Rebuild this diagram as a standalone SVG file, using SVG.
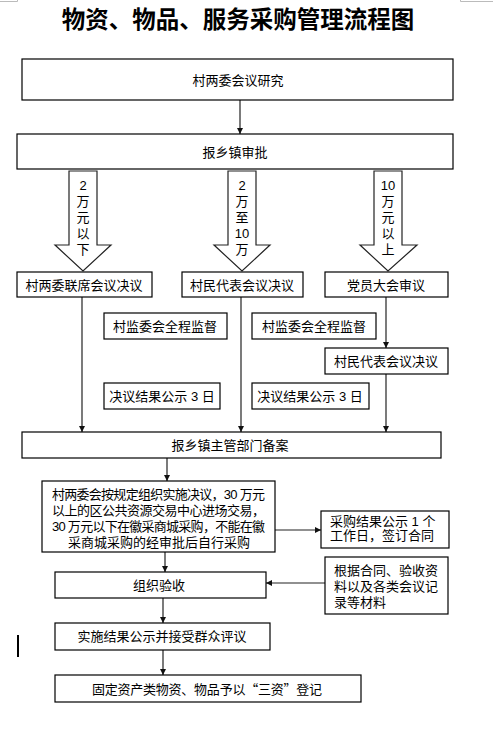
<svg xmlns="http://www.w3.org/2000/svg" width="493" height="744" viewBox="0 0 493 744">
<defs>
<marker id="ah" viewBox="0 0 10 10" refX="10" refY="5" markerWidth="6" markerHeight="7" markerUnits="userSpaceOnUse" orient="auto">
<path d="M0,0 L10,5 L0,10 z" fill="#111"/>
</marker>
</defs>
<style>
.box{fill:#fff;stroke:#000;stroke-width:1.2}
.t{font-family:"Liberation Sans","Noto Sans CJK SC",sans-serif;font-size:13px;fill:#000;dominant-baseline:central}
.c{text-anchor:middle}
.cjk{font-family:"Noto Sans CJK SC",sans-serif}
.title{font-family:"Noto Sans CJK SC",sans-serif;font-size:23.5px;font-weight:bold;fill:#000;text-anchor:middle}
.ln{stroke:#222;stroke-width:1.2;fill:none;marker-end:url(#ah)}
.barrow{fill:#fff;stroke:#222;stroke-width:1.2}
</style>
<rect width="493" height="744" fill="#fff"/>
<g id="marks" stroke="#bbb" stroke-width="1" fill="none">
<path d="M0,1.5 H17.5 V0"/>
<path d="M493,1.5 H460.5 V0"/>
</g>
<line x1="18" y1="635" x2="18" y2="657" stroke="#000" stroke-width="2"/>
<text class="title" x="238" y="28">物资、物品、服务采购管理流程图</text>

<g id="connectors">
<line class="ln" x1="240" y1="100" x2="240" y2="134"/>
<line class="ln" x1="82" y1="297" x2="82" y2="432"/>
<line class="ln" x1="241" y1="297" x2="241" y2="432"/>
<line class="ln" x1="386" y1="297" x2="386" y2="348"/>
<line class="ln" x1="386" y1="374" x2="386" y2="432"/>
<line class="ln" x1="167" y1="458" x2="167" y2="481"/>
<line class="ln" x1="165" y1="552" x2="165" y2="572"/>
<line class="ln" x1="275" y1="530" x2="321" y2="530"/>
<line class="ln" x1="325" y1="583" x2="266" y2="583"/>
<line class="ln" x1="163" y1="598" x2="163" y2="623"/>
<line class="ln" x1="163" y1="650" x2="163" y2="675"/>
<g id="arrow1">
<polygon class="barrow" points="69,171 97,171 97,245 111,245 83,271 55,245 69,245"/>
<text class="t c" x="83" y="185">2</text>
<text class="t c" x="83" y="201">万</text>
<text class="t c" x="83" y="217">元</text>
<text class="t c" x="83" y="233">以</text>
<text class="t c" x="83" y="249">下</text>
</g>
<g id="arrow2">
<polygon class="barrow" points="228,171 256,171 256,245 270,245 242,271 214,245 228,245"/>
<text class="t c" x="242" y="185">2</text>
<text class="t c" x="242" y="201">万</text>
<text class="t c" x="242" y="217">至</text>
<text class="t c" x="242" y="233">10</text>
<text class="t c" x="242" y="249">万</text>
</g>
<g id="arrow3">
<polygon class="barrow" points="374,171 402,171 402,245 417,245 388,271 360,245 374,245"/>
<text class="t c" x="388" y="185">10</text>
<text class="t c" x="388" y="201">万</text>
<text class="t c" x="388" y="217">元</text>
<text class="t c" x="388" y="233">以</text>
<text class="t c" x="388" y="249">上</text>
</g>
</g>

<g id="n1"><rect class="box" x="22" y="59" width="431" height="41"/><text class="t c" x="238" y="80">村两委会议研究</text></g>
<g id="n2"><rect class="box" x="17" y="134" width="436" height="35"/><text class="t c" x="235" y="152">报乡镇审批</text></g>
<g id="n3"><rect class="box" x="17" y="272" width="135" height="25"/><text class="t c" x="84" y="285">村两委联席会议决议</text></g>
<g id="n4"><rect class="box" x="182" y="272" width="121" height="25"/><text class="t c" x="242" y="285">村民代表会议决议</text></g>
<g id="n5"><rect class="box" x="325" y="272" width="123" height="25"/><text class="t c" x="386" y="285">党员大会审议</text></g>
<g id="n6"><rect class="box" x="104" y="313" width="123" height="26"/><text class="t c" x="165" y="326">村监委会全程监督</text></g>
<g id="n7"><rect class="box" x="252" y="313" width="124" height="26"/><text class="t c" x="314" y="326">村监委会全程监督</text></g>
<g id="n8"><rect class="box" x="325" y="348" width="123" height="26"/><text class="t c" x="386" y="361">村民代表会议决议</text></g>
<g id="n9"><rect class="box" x="104" y="383" width="116" height="26"/><text class="t c" x="162" y="396">决议结果公示 3 日</text></g>
<g id="n10"><rect class="box" x="252" y="383" width="117" height="26"/><text class="t c" x="310" y="396">决议结果公示 3 日</text></g>
<g id="n11"><rect class="box" x="22" y="432" width="419" height="26"/><text class="t c" x="230" y="445">报乡镇主管部门备案</text></g>
<g id="n12"><rect class="box" x="42" y="481" width="233" height="71"/>
<text class="t" x="52" y="494" textLength="213" lengthAdjust="spacing">村两委会按规定组织实施决议，30 万元</text>
<text class="t" x="52" y="510" textLength="213" lengthAdjust="spacing">以上的区公共资源交易中心进场交易，</text>
<text class="t" x="52" y="526" textLength="213" lengthAdjust="spacing">30 万元以下在徽采商城采购，不能在徽</text>
<text class="t c" x="159" y="542">采商城采购的经审批后自行采购</text>
</g>
<g id="n13"><rect class="box" x="321" y="511" width="128" height="37"/>
<text class="t" x="330" y="521">采购结果公示 1 个</text>
<text class="t" x="330" y="535">工作日，签订合同</text>
</g>
<g id="n14"><rect class="box" x="55" y="572" width="211" height="26"/><text class="t c" x="159" y="585">组织验收</text></g>
<g id="n15"><rect class="box" x="325" y="557" width="123" height="57"/>
<text class="t" x="334" y="570">根据合同、验收资</text>
<text class="t" x="334" y="586">料以及各类会议记</text>
<text class="t" x="334" y="602">录等材料</text>
</g>
<g id="n16"><rect class="box" x="55" y="623" width="215" height="27"/><text class="t c" x="162" y="636">实施结果公示并接受群众评议</text></g>
<g id="n17"><rect class="box" x="55" y="675" width="306" height="27"/><text class="t c cjk" x="207" y="688" textLength="230" lengthAdjust="spacing">固定资产类物资、物品予以“三资”登记</text></g>
</svg>
